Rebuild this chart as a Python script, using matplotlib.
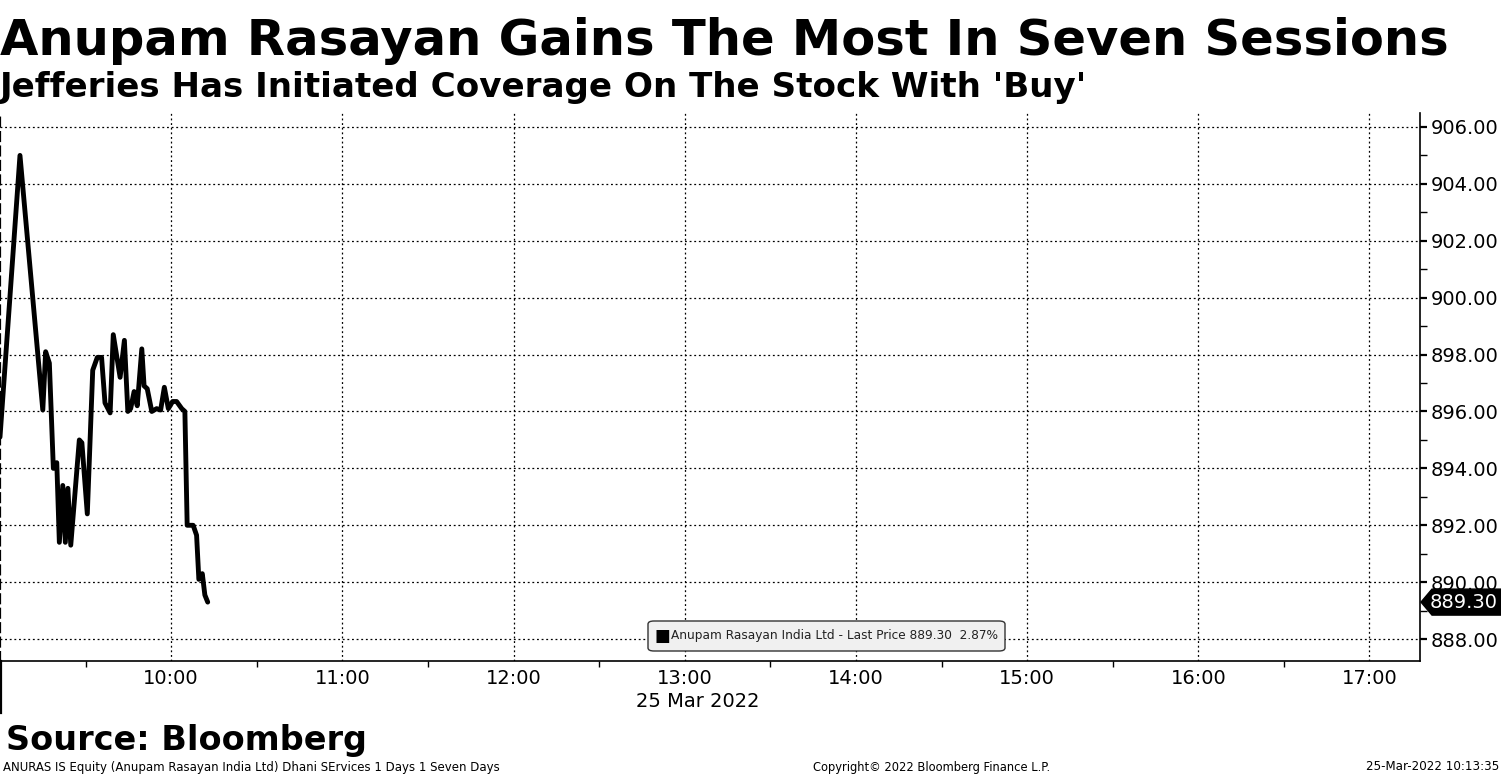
import matplotlib
matplotlib.use("Agg")
import matplotlib.pyplot as plt
from matplotlib.lines import Line2D
from matplotlib.patches import FancyBboxPatch, Polygon
import numpy as np

# ---------------- data ----------------
times = ["09:00:00", "09:07:00", "09:15:00", "09:16:00", "09:17:18", "09:18:42",
         "09:19:54", "09:20:48", "09:22:00", "09:22:54", "09:23:48", "09:24:48",
         "09:27:48", "09:28:42", "09:30:36", "09:32:30", "09:34:06", "09:35:36",
         "09:36:48", "09:38:36", "09:39:42", "09:42:06", "09:43:36", "09:44:48",
         "09:45:48", "09:47:00", "09:48:06", "09:49:42", "09:50:30", "09:51:36",
         "09:53:12", "09:54:54", "09:56:18", "09:57:36", "09:59:00", "10:00:30",
         "10:01:54", "10:03:42", "10:04:48", "10:05:36", "10:07:42", "10:08:54",
         "10:09:42", "10:10:54", "10:11:48", "10:12:48"]
prices = [895.1, 905.0, 896.05, 898.1, 897.7, 894.0,
          894.2, 891.4, 893.4, 891.4, 893.3, 891.3,
          895.0, 894.9, 892.4, 897.45, 897.9, 897.9,
          896.3, 895.95, 898.7, 897.2, 898.5, 896.0,
          896.1, 896.7, 896.2, 898.2, 896.9, 896.8,
          896.0, 896.1, 896.05, 896.85, 896.1, 896.35,
          896.35, 896.1, 896.0, 892.0, 892.0, 891.65,
          890.1, 890.3, 889.55, 889.30]
hour_labels = ["10:00", "11:00", "12:00", "13:00", "14:00", "15:00", "16:00", "17:00"]
y_ticks = [888, 890, 892, 894, 896, 898, 900, 902, 904, 906]
last_price = 889.30
change_pct = 2.87
date_label = "25 Mar 2022"
title = "Anupam Rasayan Gains The Most In Seven Sessions"
subtitle = "Jefferies Has Initiated Coverage On The Stock With 'Buy'"
source = "Source: Bloomberg"
footer_left = "ANURAS IS Equity (Anupam Rasayan India Ltd) Dhani SErvices 1 Days 1 Seven Days"
footer_mid = "Copyright\u00a9 2022 Bloomberg Finance L.P."
footer_right = "25-Mar-2022 10:13:35"
series_name = "Anupam Rasayan India Ltd - Last Price"

def to_min(s):
    h, m, sec = [int(v) for v in s.split(":")]
    return (h - 9) * 60 + m + sec / 60.0

x = np.array([to_min(t) for t in times])
y = np.array(prices)
hour_pos = [to_min(h + ":00") for h in hour_labels]

# ---------------- figure ----------------
W, H = 1501, 776
fig = plt.figure(figsize=(W / 100, H / 100), dpi=100)
plt.rcParams['font.family'] = ['DejaVu Sans']

ax_l, ax_r, ax_t, ax_b = 0, 1420, 113, 661
ax = fig.add_axes([ax_l / W, 1 - ax_b / H, (ax_r - ax_l) / W, (ax_b - ax_t) / H])

ax.plot(x, y, color="black", lw=3.5, solid_joinstyle="round", solid_capstyle="round", zorder=5)

XMAX = 497.7
YMIN, YMAX = 887.23, 906.49

ax.yaxis.tick_right()
ax.set_yticks(y_ticks)
ax.set_yticklabels([f"{v:.2f}" for v in y_ticks], fontsize=14)
ax.set_yticks([v + 1 for v in y_ticks if v + 1 < YMAX] + [y_ticks[0] - 1] * 0, minor=True)
ax.tick_params(axis="y", which="major", length=5, width=1.6, pad=3, direction="out")
ax.tick_params(axis="y", which="minor", length=5, width=1.0, direction="out")

ax.set_xticks(hour_pos)
ax.set_xticklabels(hour_labels, fontsize=14)
ax.set_xticks([p - 30 for p in hour_pos], minor=True)
ax.tick_params(axis="x", which="major", length=0, pad=6)
ax.tick_params(axis="x", which="minor", length=4, width=1.0, direction="out")

ax.set_xlim(0, XMAX)
ax.set_ylim(YMIN, YMAX)

ax.grid(True, which="major", color="black", linestyle=(0, (1.5, 2.2)), linewidth=0.9)

ax.spines["top"].set_visible(False)
ax.spines["right"].set_linewidth(1.2)
ax.spines["bottom"].set_linewidth(1.2)
ax.spines["left"].set_linestyle((0, (4, 2.5)))
ax.spines["left"].set_linewidth(1.6)

# date label under 13:00
ax.text((hour_pos[3] + 4.6) / XMAX, -0.056, date_label, transform=ax.transAxes,
        ha="center", va="top", fontsize=14)

# solid continuation of left border below axis
fig.add_artist(Line2D([0.6 / W, 0.6 / W], [1 - 661 / H, 1 - 713 / H], color="black", lw=1.6))

renderer = fig.canvas.get_renderer()

def fit_width(t, target_w):
    w = t.get_window_extent(renderer).width
    t.set_fontsize(t.get_fontsize() * target_w / w)
    return t

# legend box
lx0, lx1, ly0, ly1 = 648, 1005, 621, 651
fig.add_artist(FancyBboxPatch((lx0 / W, 1 - ly1 / H), (lx1 - lx0) / W, (ly1 - ly0) / H,
                              boxstyle="round,pad=0,rounding_size=0.004",
                              facecolor="#f0f0f0", edgecolor="#333333", lw=1.0, zorder=10))
fig.text(655 / W, 1 - 636 / H, "\u25a0", fontsize=12, va="center", ha="left", zorder=11)
lt = fig.text(671 / W, 1 - 636 / H, f"{series_name} {last_price:.2f}  {change_pct:.2f}%",
              fontsize=9.6, va="center", ha="left", color="#222222", zorder=11)
fit_width(lt, 327)

# last price tag
ty_px = H - ax.transData.transform((0, last_price))[1]
th = 13
poly = Polygon([[1421 / W, 1 - ty_px / H],
                [1432 / W, 1 - (ty_px - th) / H],
                [1501 / W, 1 - (ty_px - th) / H],
                [1501 / W, 1 - (ty_px + th) / H],
                [1432 / W, 1 - (ty_px + th) / H]],
               closed=True, transform=fig.transFigure, facecolor="black", edgecolor="black", zorder=10)
fig.add_artist(poly)
fig.text(1464 / W, 1 - ty_px / H, f"{last_price:.2f}", color="white", fontsize=14,
         ha="center", va="center", zorder=11)

# titles fitted to width
def fitted(txt, xpx, ypx_base, target_w, fs0):
    t = fig.text(xpx / W, 1 - ypx_base / H, txt, fontsize=fs0, fontweight="bold",
                 ha="left", va="baseline")
    return fit_width(t, target_w)

fitted(title, 0, 55, 1449, 40)
fitted(subtitle, 0, 97, 1088, 26)
fitted(source, 6, 750, 360, 26)

f1 = fig.text(3 / W, 1 - 767 / H, footer_left, fontsize=9, ha="left", va="center")
fit_width(f1, 497)
f2 = fig.text(813 / W, 1 - 767 / H, footer_mid, fontsize=9, ha="left", va="center")
fit_width(f2, 238)
f3 = fig.text(1499 / W, 1 - 767 / H, footer_right, fontsize=9, ha="right", va="center")
fit_width(f3, 132)

fig.savefig("out.png", dpi=100)
